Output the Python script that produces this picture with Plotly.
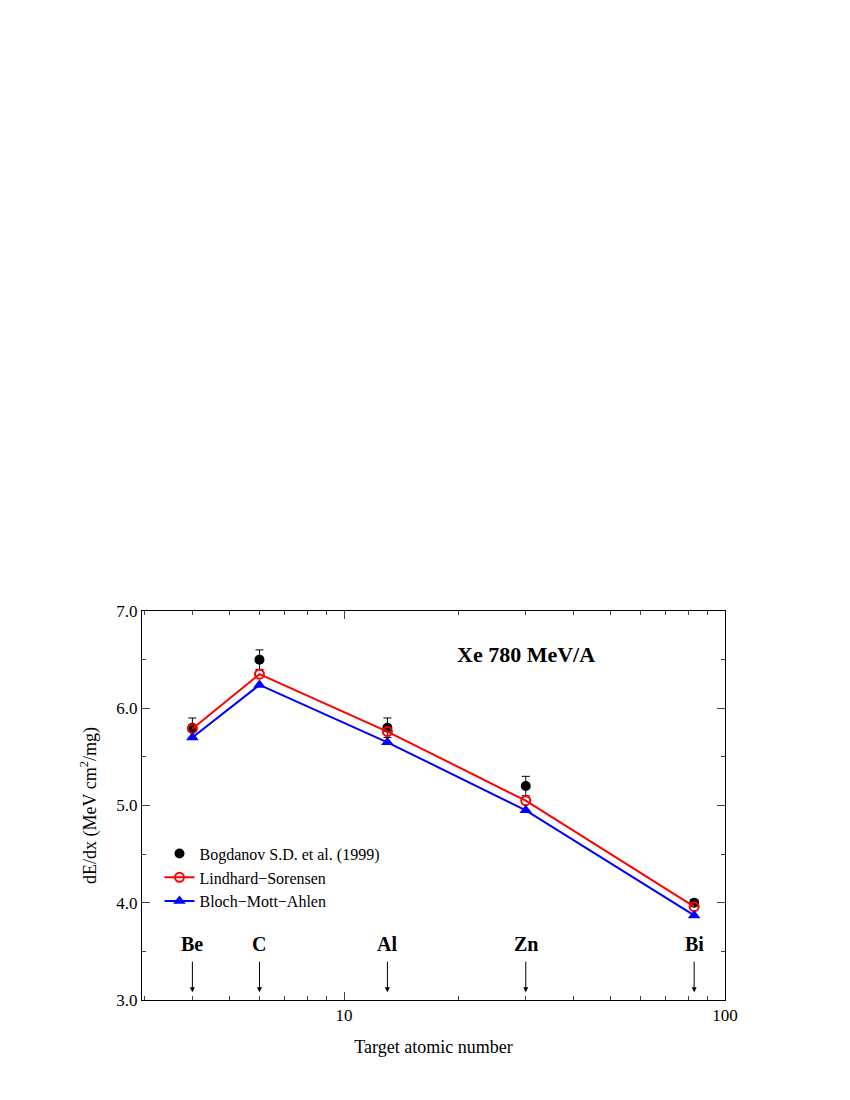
import plotly.graph_objects as go
import numpy as np

elements = ["Be", "C", "Al", "Zn", "Bi"]
Z = [4, 6, 13, 30, 83]
exp_vals = [5.80, 6.50, 5.80, 5.20, 4.00]
exp_err = [0.10, 0.10, 0.10, 0.10, 0.03]
ls_vals = [5.79, 6.35, 5.76, 5.05, 3.96]
bma_vals = [5.70, 6.24, 5.65, 4.95, 3.87]

font = "Liberation Serif"
fig = go.Figure()
fig.add_trace(go.Scatter(x=Z, y=exp_vals, mode="markers", name="Bogdanov S.D. et al. (1999)",
    marker=dict(color="black", size=10),
    error_y=dict(type="data", array=exp_err, color="black", width=4, thickness=1)))
fig.add_trace(go.Scatter(x=Z, y=ls_vals, mode="lines+markers", name="Lindhard\u2212Sorensen",
    line=dict(color="red", width=2),
    marker=dict(symbol="circle-open", color="red", size=9, line=dict(width=2))))
fig.add_trace(go.Scatter(x=Z, y=bma_vals, mode="lines+markers", name="Bloch\u2212Mott\u2212Ahlen",
    line=dict(color="blue", width=2),
    marker=dict(symbol="triangle-up", color="blue", size=11)))

for el, z in zip(elements, Z):
    fig.add_annotation(x=np.log10(z), y=3.08, ax=np.log10(z), ay=3.42, xref="x", yref="y",
        axref="x", ayref="y", text=" ", showarrow=True, arrowhead=2, arrowsize=1, arrowwidth=1,
        arrowcolor="black", font=dict(size=2))
    fig.add_annotation(x=np.log10(z), y=3.44, text="<b>"+el+"</b>", showarrow=False,
        yanchor="bottom", font=dict(family=font, size=20, color="black"))

fig.add_annotation(x=np.log10(30), y=6.55, text="<b>Xe 780 MeV/A</b>", showarrow=False,
    font=dict(family=font, size=22, color="black"))

fig.update_layout(
    width=850, height=1100, plot_bgcolor="white", paper_bgcolor="white",
    margin=dict(l=134, r=133, t=603, b=108),
    font=dict(family=font, size=17, color="black"),
    legend=dict(x=0.03, y=0.42, xanchor="left", yanchor="top", bgcolor="rgba(0,0,0,0)",
                font=dict(family=font, size=16)),
    xaxis=dict(type="log", range=[np.log10(2.95), 2], showgrid=False, zeroline=False,
        showline=True, linecolor="black", mirror="allticks", ticks="inside", ticklen=8,
        tickvals=[10, 100], ticktext=["10", "100"],
        minor=dict(ticks="inside", ticklen=4, tickvals=[3,4,5,6,7,8,9,20,30,40,50,60,70,80,90]),
        title=dict(text="Target atomic number", font=dict(size=18))),
    yaxis=dict(range=[3.0, 7.0], showgrid=False, zeroline=False, showline=True, linecolor="black",
        mirror="allticks", ticks="inside", ticklen=8, tickvals=[3,4,5,6,7],
        ticktext=["3.0","4.0","5.0","6.0","7.0"],
        minor=dict(ticks="inside", ticklen=4, dtick=0.5),
        title=dict(text="dE/dx (MeV cm<sup>2</sup>/mg)", font=dict(size=18))),
)
fig.write_html("out.html")
